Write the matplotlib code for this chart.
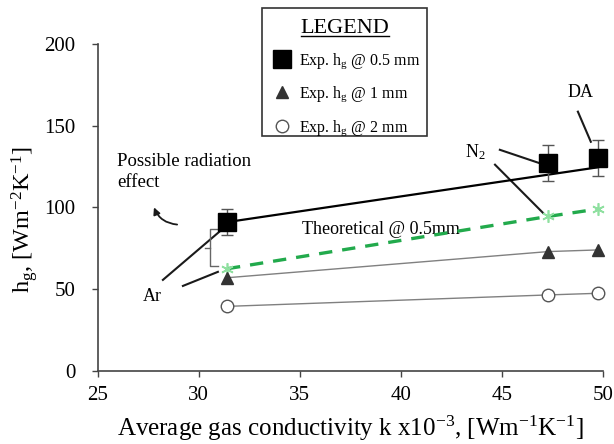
import matplotlib
matplotlib.use("Agg")
import matplotlib.pyplot as plt
from matplotlib.lines import Line2D
from matplotlib.patches import Rectangle
import numpy as np

plt.rcParams['font.family'] = ['Liberation Serif', 'DejaVu Serif']
plt.rcParams['mathtext.fontset'] = 'custom'
plt.rcParams['mathtext.rm'] = 'Liberation Serif'
plt.rcParams['mathtext.it'] = 'Liberation Serif:italic'
plt.rcParams['mathtext.bf'] = 'Liberation Serif:bold'

# ---- data ----
gases = ["Ar", "N2", "DA"]
conductivity = [31.4, 47.3, 49.75]
hg_05mm = [91, 127, 130]
hg_05mm_err = [8, 11, 11]
hg_1mm = [57, 73, 74]
hg_2mm = [39.5, 46.5, 47.5]
theoretical_05mm = [62.5, 94.5, 99]
trend_x = [31.4, 49.75]
trend_y = [91, 124.5]

x_ticks = [25, 30, 35, 40, 45, 50]
y_ticks = [0, 50, 100, 150, 200]

fig = plt.figure(figsize=(6.14, 4.44), dpi=100)
ax = fig.add_axes([0.159, 0.1644, 0.823, 0.737])

# trend line for 0.5 mm
ax.plot(trend_x, trend_y, color='black', lw=1.6, zorder=3, clip_on=False)
# 1 mm and 2 mm connecting lines
ax.plot(conductivity, hg_1mm, color='#808080', lw=1.0, zorder=2, clip_on=False)
ax.plot(conductivity, hg_2mm, color='#808080', lw=1.0, zorder=2, clip_on=False)
# theoretical
ax.plot(conductivity, theoretical_05mm, color='#22aa4c', lw=2.4, ls=(0, (4, 3)),
        marker=(6, 2, 0), markersize=9, markeredgecolor='#8fe0a0', markeredgewidth=1.2,
        zorder=3, clip_on=False)

# experimental points
eb = ax.errorbar(conductivity, hg_05mm, yerr=hg_05mm_err, fmt='none', ecolor='#555555',
                 elinewidth=1.0, capsize=4.5, capthick=1.0, zorder=4)
for art in eb.get_children():
    art.set_clip_on(False)
sq, = ax.plot(conductivity, hg_05mm, ls='none', marker='s', markersize=12.5,
              color='black', zorder=5, clip_on=False, label='Exp. h$_\\mathregular{g}$ @ 0.5 mm')
tri, = ax.plot(conductivity, hg_1mm, ls='none', marker='^', markersize=9,
               color='#333333', zorder=5, clip_on=False, label='Exp. h$_\\mathregular{g}$ @ 1 mm')
cir, = ax.plot(conductivity, hg_2mm, ls='none', marker='o', markersize=9,
               markerfacecolor='white', markeredgecolor='#555555', markeredgewidth=1.0,
               zorder=5, clip_on=False, label='Exp. h$_\\mathregular{g}$ @ 2 mm')

ax.set_xlim(25, 50)
ax.set_ylim(0, 200)
ax.set_xticks(x_ticks)
ax.set_yticks(y_ticks)
for s in ['top', 'right']:
    ax.spines[s].set_visible(False)
for s in ['left', 'bottom']:
    ax.spines[s].set_color('#444444')
    ax.spines[s].set_linewidth(1.2)
ax.tick_params(axis='both', direction='out', length=4, width=1.0, color='#444444',
               labelsize=15)
ax.tick_params(axis='y', pad=12)
ax.tick_params(axis='x', pad=7)
ax.set_xlabel('Average gas conductivity k x10$^\\mathregular{-3}$, [Wm$^\\mathregular{-1}$K$^\\mathregular{-1}$]',
              fontsize=18, labelpad=6)
ax.set_ylabel('h$_\\mathregular{g}$, [Wm$^\\mathregular{-2}$K$^\\mathregular{-1}$]', fontsize=17.5)
ax.yaxis.set_label_coords(-0.114, 0.462)

# annotations
lc = '#1a1a1a'
ax.text(27.69, 45.3, 'Ar', fontsize=13, ha='center', va='center')
ax.plot([28.23, 31.2], [55.7, 87.0], color=lc, lw=1.5, zorder=2)
ax.plot([29.22, 30.95], [52.0, 60.6], color=lc, lw=1.5, zorder=2)

ax.text(43.7, 134, 'N$_\\mathregular{2}$', fontsize=13, ha='center', va='center')
ax.plot([44.9, 46.8], [135.2, 127.3], color=lc, lw=1.5, zorder=2)
ax.plot([44.66, 47.03], [126.1, 96.7], color=lc, lw=1.5, zorder=2)

ax.text(48.87, 170, 'DA', fontsize=13, ha='center', va='center')
ax.plot([48.76, 49.4], [158.5, 140.1], color=lc, lw=1.5, zorder=2)

ax.text(25.95, 121.5, 'Possible radiation\neffect', fontsize=13.5, ha='left', va='center',
        linespacing=1.3)
ax.annotate('', xy=(27.74, 101.6), xytext=(29.07, 89.4),
            arrowprops=dict(arrowstyle='-|>', color=lc, lw=1.3, mutation_scale=10,
                            connectionstyle='arc3,rad=-0.35'))
# bracket
ax.plot([30.95, 30.56, 30.56, 30.95], [86.9, 86.9, 64.3, 64.3], color='#666666', lw=1.0)
ax.plot([30.56, 30.31], [75.3, 75.3], color='#666666', lw=1.0)

ax.text(39.0, 86.5, 'Theoretical @ 0.5mm', fontsize=13, ha='center', va='center', zorder=2)

# legend box
fig.add_artist(Rectangle((262/614, 1-136/444), 165/614, 128/444, transform=fig.transFigure,
                         facecolor='white', edgecolor='#333333', lw=1.2, zorder=4))
leg = fig.legend(handles=[sq, tri, cir], loc='upper left', bbox_to_anchor=(270/614, 1-19/444),
                 bbox_transform=fig.transFigure, frameon=False, fontsize=11.5, title='LEGEND',
                 title_fontsize=16, borderpad=0, labelspacing=0.85, handletextpad=0.3,
                 handlelength=1.5, borderaxespad=0, markerscale=1.0)
leg.set_zorder(5)

fig.canvas.draw()
tb = leg.get_title().get_window_extent()
inv = fig.transFigure.inverted()
(x0, y0), (x1, y1) = inv.transform([[tb.x0, tb.y0], [tb.x1, tb.y1]])
fig.add_artist(Line2D([x0, x1], [y0 + 0.004, y0 + 0.004], color='black', lw=1.0,
                      transform=fig.transFigure, zorder=6))

fig.savefig('out.png', dpi=100)
